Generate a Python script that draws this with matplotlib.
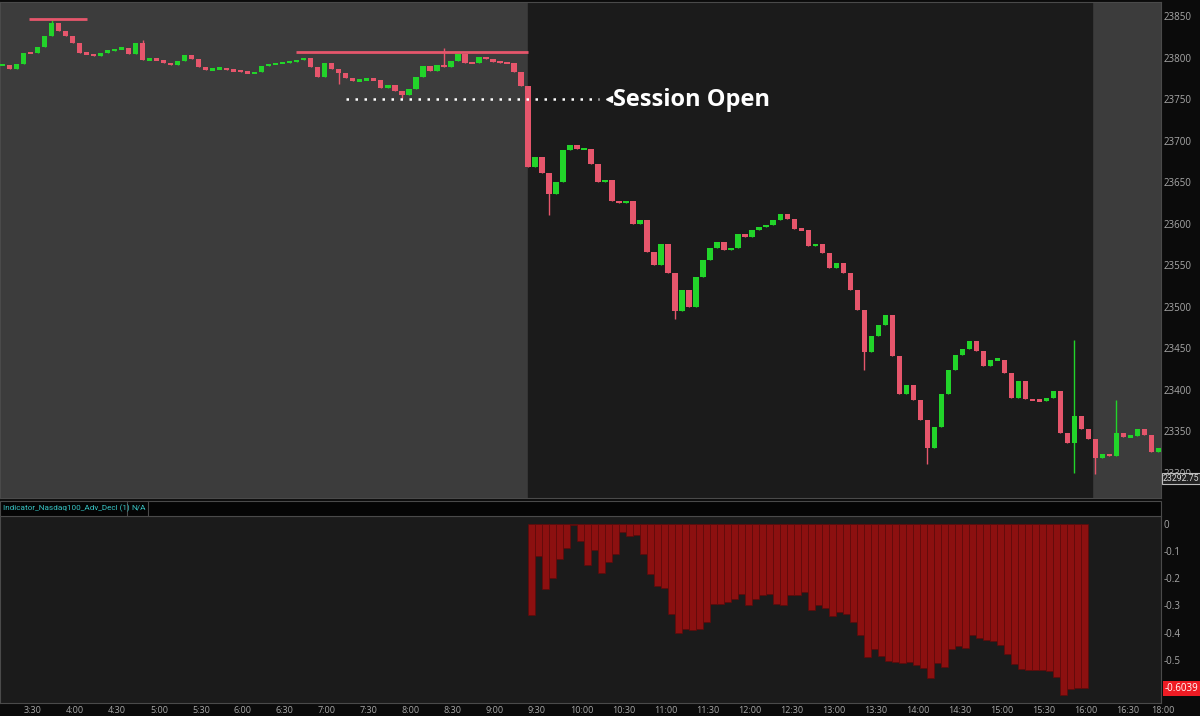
import matplotlib
matplotlib.use('Agg')
import matplotlib.pyplot as plt
import matplotlib.transforms as mtrans
from matplotlib.patches import Rectangle
import numpy as np

# price, 5-minute closes, first bar at 3:15 (minutes after midnight)
price_start = 195
price_step = 5
price_close = [
    23791, 23786, 23792, 23806, 23805, 23813, 23826, 23841, 23832, 23826,
    23818, 23806, 23804, 23802, 23806, 23808, 23810, 23812, 23804, 23818,
    23797, 23798, 23797, 23794, 23791, 23796, 23803, 23798, 23789, 23785,
    23786, 23787, 23785, 23784, 23783, 23781, 23782, 23790, 23792, 23793,
    23794, 23795, 23797, 23800, 23788, 23777, 23794, 23786, 23781, 23775,
    23772, 23773, 23774, 23773, 23763, 23767, 23760, 23755, 23762, 23777,
    23790, 23784, 23791, 23789, 23796, 23804, 23794, 23793, 23801, 23798,
    23795, 23794, 23793, 23782, 23766, 23668, 23680, 23661, 23635, 23650,
    23689, 23695, 23690, 23690, 23672, 23650, 23652, 23627, 23625, 23627,
    23600, 23604, 23566, 23550, 23575, 23540, 23495, 23520, 23500, 23535,
    23556, 23570, 23578, 23568, 23570, 23587, 23584, 23592, 23596, 23598,
    23604, 23611, 23605, 23594, 23592, 23573, 23575, 23564, 23547, 23552,
    23540, 23520, 23496, 23445, 23465, 23478, 23490, 23440, 23395, 23405,
    23387, 23363, 23330, 23355, 23395, 23423, 23442, 23449, 23458, 23446,
    23428, 23436, 23436, 23420, 23390, 23410, 23388, 23387, 23386, 23390,
    23398, 23348, 23335, 23368, 23352, 23340, 23318, 23322, 23320, 23348,
    23343, 23344, 23352, 23345, 23325, 23330,
]
# long wicks: time -> (low, high)
price_spikes = {
    230: (None, 23845), 295: (None, 23821), 435: (23768, None),
    480: (23751, None), 510: (None, 23811), 585: (23610, None),
    675: (23485, None), 810: (23423, None), 855: (23310, None),
    960: (23300, 23460), 975: (23298, None), 990: (None, 23387),
}
last_price = 23292.75

# Nasdaq100 advance/decline, 5-minute bars from 9:30
adv_decl_start = 570
adv_decl_step = 5
adv_decl = [
    -0.337, -0.12, -0.24, -0.20, -0.13, -0.09, -0.005, -0.065, -0.15, -0.095,
    -0.18, -0.14, -0.11, -0.03, -0.045, -0.04, -0.11, -0.185, -0.23, -0.235,
    -0.33, -0.40, -0.385, -0.39, -0.385, -0.36, -0.294, -0.294, -0.288, -0.276,
    -0.258, -0.30, -0.276, -0.263, -0.258, -0.294, -0.30, -0.263, -0.263, -0.25,
    -0.315, -0.30, -0.31, -0.34, -0.325, -0.33, -0.36, -0.41, -0.49, -0.46,
    -0.485, -0.505, -0.507, -0.512, -0.508, -0.52, -0.53, -0.568, -0.513, -0.525,
    -0.46, -0.45, -0.455, -0.41, -0.42, -0.428, -0.432, -0.445, -0.48, -0.515,
    -0.535, -0.538, -0.538, -0.538, -0.54, -0.562, -0.629, -0.605, -0.604, -0.6039,
]

time_ticks = [210, 240, 270, 300, 330, 360, 390, 420, 450, 480, 510, 540, 570,
              600, 630, 660, 690, 720, 750, 780, 810, 840, 870, 900, 930, 960,
              990, 1015]
time_labels = ['3:30', '4:00', '4:30', '5:00', '5:30', '6:00', '6:30', '7:00',
               '7:30', '8:00', '8:30', '9:00', '9:30', '10:00', '10:30', '11:00',
               '11:30', '12:00', '12:30', '13:00', '13:30', '14:00', '14:30',
               '15:00', '15:30', '16:00', '16:30', '18:00']
price_ticks = [23300, 23350, 23400, 23450, 23500, 23550, 23600, 23650, 23700,
               23750, 23800, 23850]
ind_ticks = [0, -0.1, -0.2, -0.3, -0.4, -0.5]
ind_tick_labels = ['0', '-0.1', '-0.2', '-0.3', '-0.4', '-0.5']

GREEN = '#22d42a'
RED = '#e6566c'
TXT = '#a8a8a8'
W, H = 1200, 716


def box(x0, y0, x1, y1):
    return [x0 / W, 1 - y1 / H, (x1 - x0) / W, (y1 - y0) / H]


fig = plt.figure(figsize=(12, 7.16), dpi=100, facecolor='#0b0b0b')
plt.rcParams['font.family'] = ['Open Sans', 'DejaVu Sans']

XMIN, XMAX = 192.9, 1022.1

# ---- price panel
ax = fig.add_axes(box(0, 2, 1161, 498))
ax.set_facecolor('#3c3c3c')
ax.axvspan(570, 973, color='#1b1b1b', zorder=0)
ax.set_xlim(XMIN, XMAX)
ax.set_ylim(23269.3, 23866.9)

t = price_start + price_step * np.arange(len(price_close))
c = np.array(price_close, float)
o = np.r_[c[0], c[:-1]]
lo = np.minimum(o, c)
hi = np.maximum(o, c)
wlo, whi = lo.copy(), hi.copy()
for tm, (l, h) in price_spikes.items():
    i = int((tm - price_start) // price_step)
    if l is not None:
        wlo[i] = l
    if h is not None:
        whi[i] = h
cols = np.where(c >= o, GREEN, RED)
ax.vlines(t, wlo, whi, colors=cols, lw=1.0, zorder=3)
mid = (lo + hi) / 2
hgt = np.maximum(hi - lo, 3.0)
ax.bar(t, hgt, bottom=mid - hgt / 2, width=3.6, color=cols,
       linewidth=0, zorder=3)

# resistance lines
ax.hlines(23846, 213.6, 255, color=RED, lw=2, zorder=4)
ax.hlines(23806.6, 404.3, 570, color=RED, lw=2, zorder=4)

# session open marker
ax.hlines(23750, 440, 621, color='white', lw=1.8, linestyles=(0, (1, 2.6)), zorder=4)
ax.plot([627.5], [23749.5], marker='<', ms=4, color='white', zorder=5)
ax.text(630.5, 23748.5, 'Session Open', color='white', fontsize=17,
        fontweight='bold', va='center', ha='left', zorder=5)

ax.yaxis.tick_right()
ax.set_yticks(price_ticks)
ax.set_yticklabels([str(p) for p in price_ticks])
ax.tick_params(axis='y', length=0, pad=2, labelsize=7, colors=TXT)
ax.set_xticks([])
for s in ax.spines.values():
    s.set_color('#4a4a4a')
    s.set_linewidth(0.8)

trans = mtrans.blended_transform_factory(ax.transAxes, ax.transData)
ax.text(1.0015, last_price, f'{last_price:.2f}', transform=trans, fontsize=6.3,
        family=['Roboto', 'DejaVu Sans'], color='#d8d8d8', va='center',
        ha='left', zorder=6,
        bbox=dict(boxstyle='square,pad=0.12', fc='#222222', ec='#bdbdbd', lw=0.8))

# ---- indicator header strip
fig.patches.append(Rectangle((0, 1 - 516 / H), 1161 / W, 15 / H, transform=fig.transFigure,
                             fc='#050505', ec='#4a4a4a', lw=0.8))
for xs in (127, 148):
    fig.lines.append(plt.Line2D([xs / W, xs / W], [1 - 515 / H, 1 - 501 / H],
                                transform=fig.transFigure, color='#4a4a4a', lw=0.8))
fig.text(3 / W, 1 - 508 / H, 'Indicator_Nasdaq100_Adv_Decl (1)', color='#38c4c4',
         fontsize=5.9, family=['Roboto', 'DejaVu Sans'], va='center', ha='left')
fig.text(131 / W, 1 - 508 / H, 'N/A', color='#38c4c4', fontsize=5.9,
         family=['Roboto', 'DejaVu Sans'], va='center', ha='left')

# ---- indicator panel
ax2 = fig.add_axes(box(0, 516, 1161, 703))
ax2.set_facecolor('#1b1b1b')
ax2.set_xlim(XMIN, XMAX)
ax2.set_ylim(-0.658, 0.028)
ti = adv_decl_start + adv_decl_step * np.arange(len(adv_decl))
ax2.bar(ti, adv_decl, width=adv_decl_step, align='edge', color='#8c1010',
        edgecolor='#5e0a0a', linewidth=0.5, zorder=3)
ax2.yaxis.tick_right()
ax2.set_yticks(ind_ticks)
ax2.set_yticklabels(ind_tick_labels)
ax2.tick_params(axis='y', length=0, pad=2, labelsize=7, colors=TXT)
ax2.set_xticks(time_ticks)
ax2.set_xticklabels(time_labels, ha='left')
ax2.tick_params(axis='x', length=0, pad=2, labelsize=6.5, colors=TXT)
for s in ax2.spines.values():
    s.set_color('#4a4a4a')
    s.set_linewidth(0.8)

trans2 = mtrans.blended_transform_factory(ax2.transAxes, ax2.transData)
ax2.text(1.003, adv_decl[-1], f'{adv_decl[-1]:.4f}', transform=trans2, fontsize=7,
         color='white', va='center', ha='left', zorder=6,
         bbox=dict(boxstyle='square,pad=0.2', fc='#ee1c24', ec='none'))

fig.savefig('out.png', dpi=100, facecolor=fig.get_facecolor())
